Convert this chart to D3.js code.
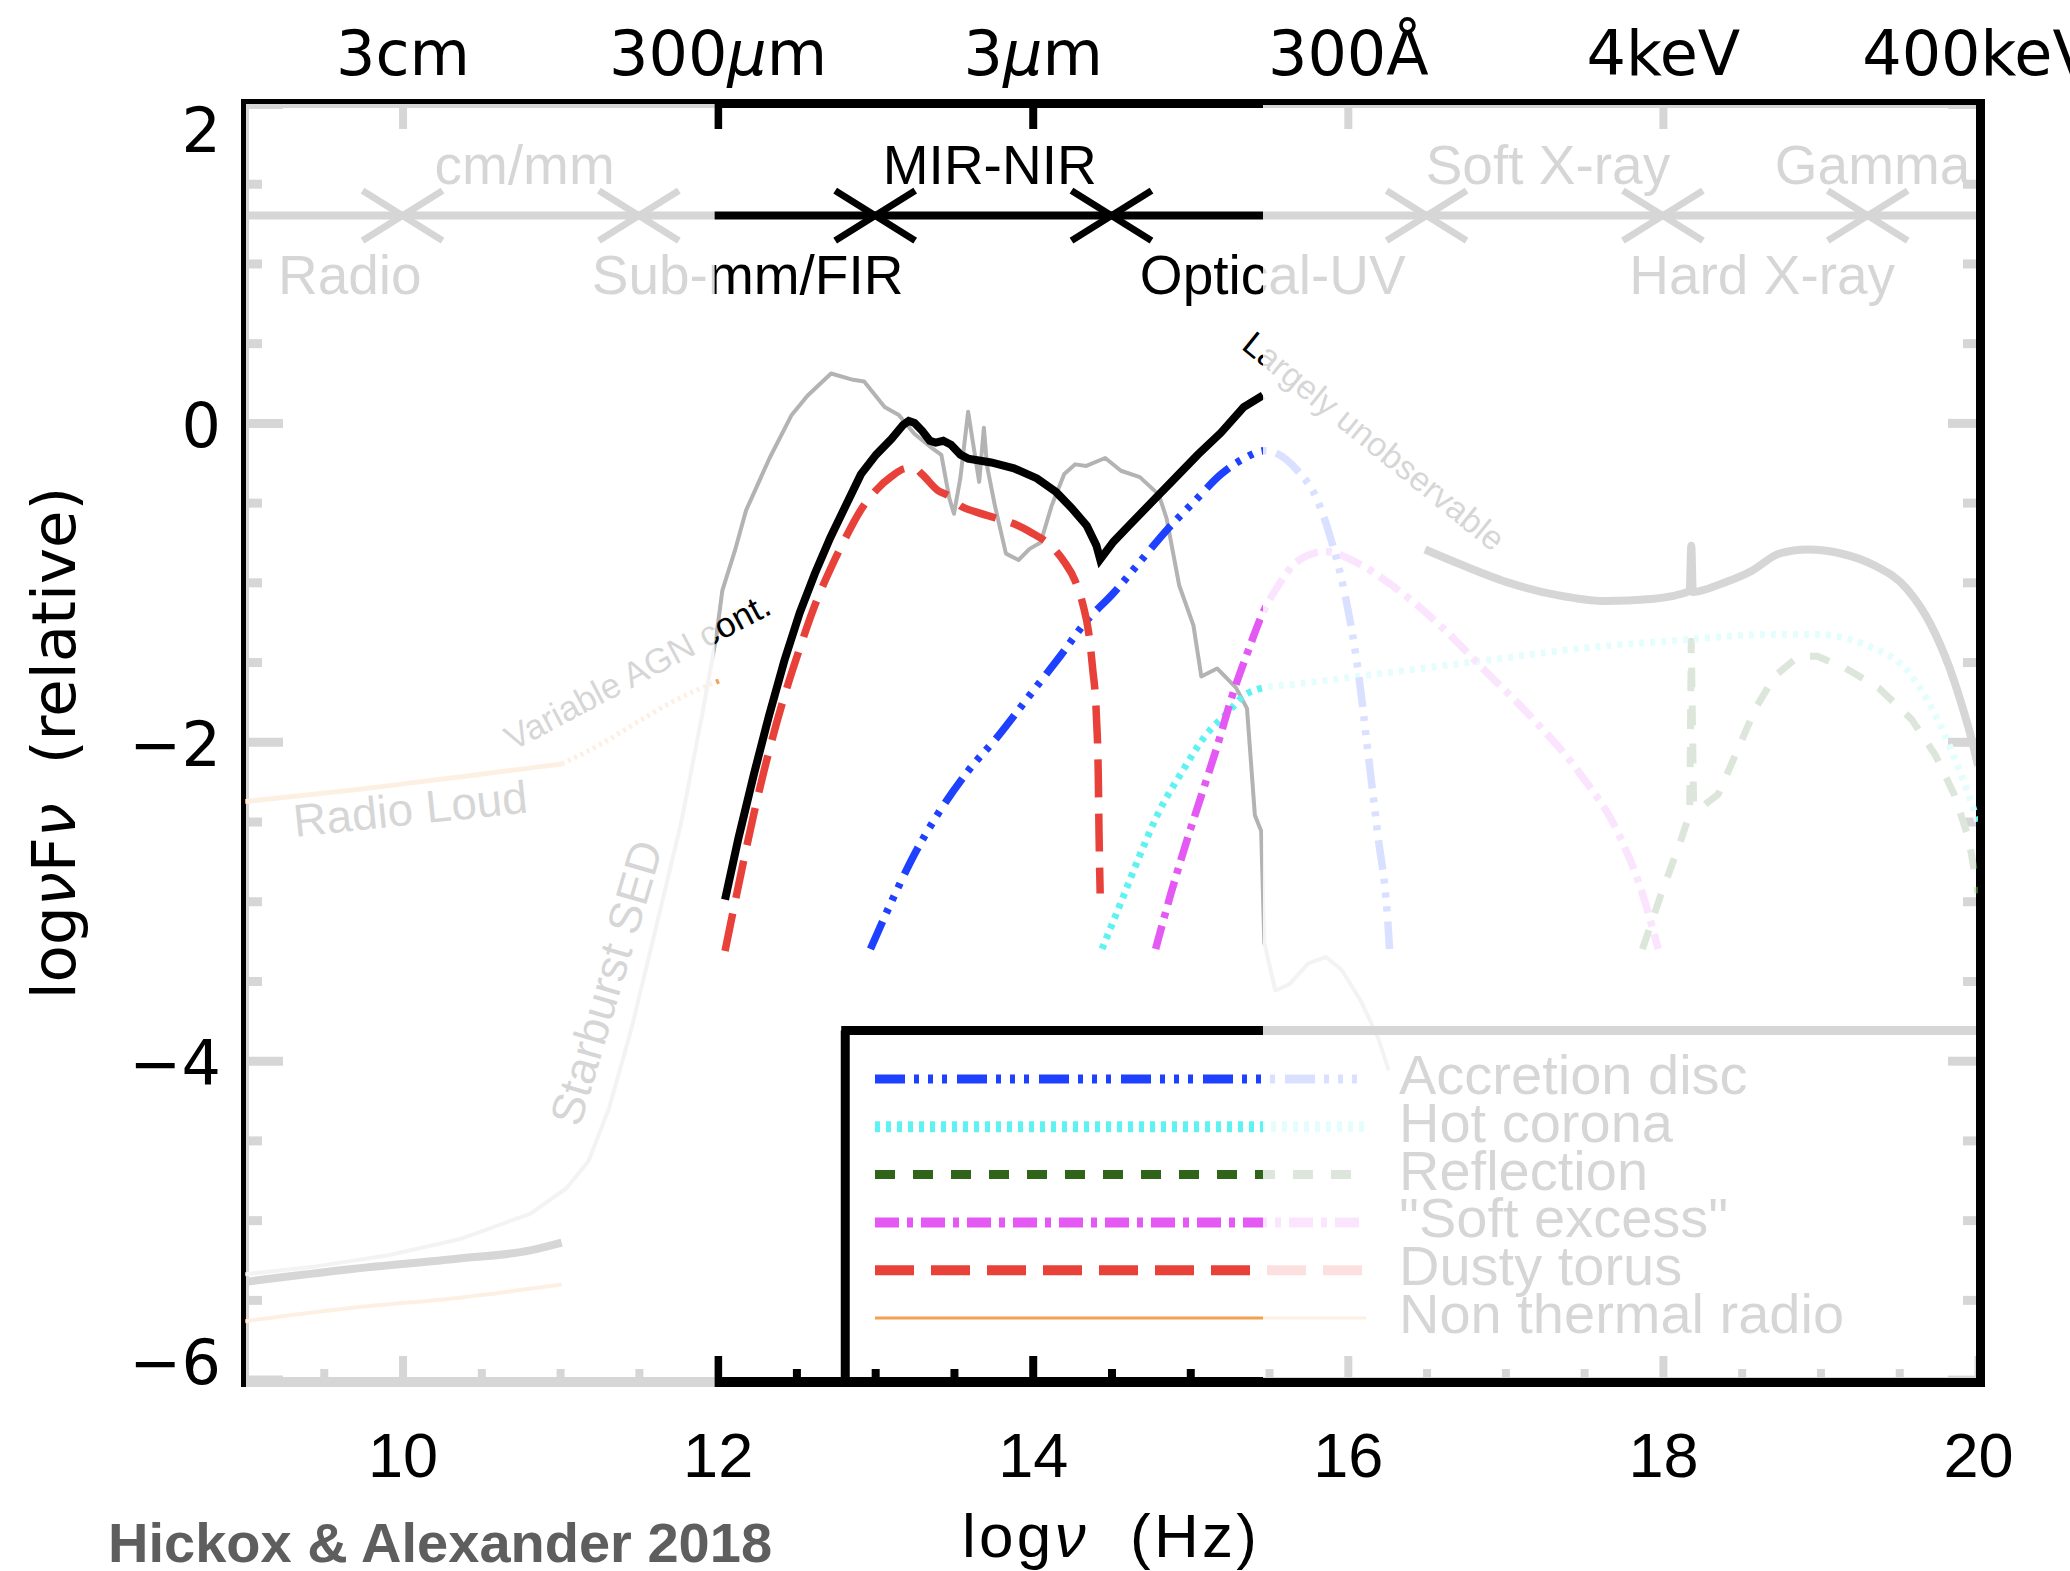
<!DOCTYPE html>
<html><head><meta charset="utf-8">
<script src="https://cdn.jsdelivr.net/npm/d3@7"></script>
<style>body{margin:0;background:#fff;} svg{display:block;}</style>
</head><body><svg id="c" width="2070" height="1571"></svg>
<script>
// ---------------- data ----------------
const xTicks = [10, 12, 14, 16, 18, 20];
const topLabels = ["3cm", "300μm", "3μm", "300Å", "4keV", "400keV"];
const yTicks = [2, 0, -2, -4, -6];
const xMinor = [9.5,10.5,11,11.5,12.5,13,13.5,14.5,15,15.5,16.5,17,17.5,18.5,19,19.5];
const yMinor = [1.5,1,0.5,-0.5,-1,-1.5,-2.5,-3,-3.5,-4.5,-5,-5.5];

const bandCrosses = [10, 11.5, 13, 14.5, 16.5, 18, 19.3];
const bandLevel = 1.30;
const bandNamesAbove = ["cm/mm", "MIR-NIR", "Soft X-ray"];
const bandPosAbove = [10.775, 13.727, 17.27];
const bandNamesBelow = ["Radio", "Sub-mm/FIR", "Optical-UV", "Hard X-ray"];
const bandPosBelow = [9.665, 12.19, 15.524, 18.63];
const gammaLabel = "Gamma"; const gammaPos = 18.71;

const totalAGN = [[12.047,-2.99],[12.132,-2.605],[12.229,-2.208],[12.326,-1.836],[12.424,-1.489],[12.521,-1.191],[12.618,-0.943],[12.715,-0.72],[12.812,-0.521],[12.909,-0.323],[13.006,-0.199],[13.104,-0.1],[13.177,-0.013],[13.213,0.012],[13.25,0.0],[13.298,-0.05],[13.347,-0.112],[13.384,-0.124],[13.432,-0.112],[13.481,-0.137],[13.541,-0.199],[13.59,-0.224],[13.736,-0.248],[13.881,-0.285],[14.027,-0.348],[14.149,-0.434],[14.246,-0.533],[14.343,-0.645],[14.404,-0.769],[14.428,-0.856],[14.513,-0.745],[14.61,-0.645],[14.756,-0.496],[14.902,-0.348],[15.048,-0.199],[15.194,-0.062],[15.339,0.099],[15.461,0.173]];
const xrayTotal = [[16.49,-0.794],[16.73,-0.893],[17.03,-1.005],[17.33,-1.08],[17.63,-1.117],[17.93,-1.104],[18.17,-1.055],[18.18,-0.77],[18.19,-1.06],[18.38,-1.005],[18.56,-0.93],[18.74,-0.819],[18.92,-0.794],[19.13,-0.819],[19.34,-0.893],[19.55,-1.042],[19.70,-1.265],[19.82,-1.538],[19.91,-1.811],[19.96,-1.985],[20.0,-2.15]];
const radioQuiet = [[9.0,-5.387],[9.68,-5.306],[10.36,-5.24],[10.81,-5.19],[11.01,-5.141]];
const radioQuietSync = [[9.0,-5.634],[9.68,-5.55],[10.36,-5.486],[11.01,-5.404]];
const radioLoud = [[9.0,-2.375],[9.68,-2.303],[10.36,-2.221],[11.01,-2.139]];
const radioLoudVar = [[11.01,-2.139],[11.27,-2.008],[11.49,-1.877],[11.72,-1.745],[12.02,-1.614]];
const dustyTorus = [[12.047,-3.312],[12.132,-2.903],[12.229,-2.456],[12.326,-2.059],[12.424,-1.712],[12.521,-1.414],[12.618,-1.141],[12.715,-0.918],[12.812,-0.72],[12.909,-0.546],[13.006,-0.422],[13.104,-0.335],[13.201,-0.285],[13.25,-0.285],[13.298,-0.323],[13.396,-0.422],[13.469,-0.459],[13.541,-0.521],[13.638,-0.558],[13.76,-0.595],[13.881,-0.633],[14.003,-0.695],[14.1,-0.757],[14.198,-0.868],[14.27,-0.992],[14.319,-1.141],[14.355,-1.315],[14.38,-1.538],[14.404,-1.836],[14.416,-2.208],[14.421,-2.58],[14.428,-2.952]];
const accretionDisc = [[12.97,-3.299],[13.104,-3.002],[13.25,-2.704],[13.396,-2.456],[13.59,-2.183],[13.784,-1.96],[13.978,-1.712],[14.173,-1.464],[14.343,-1.24],[14.513,-1.067],[14.683,-0.868],[14.853,-0.67],[15.023,-0.496],[15.194,-0.323],[15.339,-0.224],[15.475,-0.174],[15.68,-0.298],[15.80,-0.47],[15.89,-0.72],[15.98,-1.067],[16.07,-1.588],[16.13,-2.084],[16.19,-2.58],[16.25,-3.076],[16.265,-3.30]];
const softExcess = [[14.78,-3.299],[14.877,-2.952],[14.975,-2.63],[15.072,-2.332],[15.169,-2.034],[15.266,-1.712],[15.364,-1.439],[15.461,-1.191],[15.56,-1.018],[15.68,-0.868],[15.86,-0.806],[16.04,-0.868],[16.28,-1.018],[16.58,-1.265],[16.88,-1.563],[17.18,-1.861],[17.48,-2.208],[17.72,-2.58],[17.87,-2.952],[17.97,-3.299]];
const hotCorona = [[14.44,-3.299],[14.562,-3.002],[14.683,-2.704],[14.805,-2.431],[14.951,-2.183],[15.097,-1.96],[15.242,-1.811],[15.339,-1.712],[15.461,-1.662],[15.68,-1.637],[16.28,-1.563],[16.88,-1.489],[17.48,-1.414],[18.08,-1.365],[18.68,-1.327],[18.98,-1.327],[19.28,-1.39],[19.58,-1.588],[19.79,-1.96],[19.94,-2.332],[20.0,-2.506]];
const reflection = [[17.87,-3.30],[17.99,-2.952],[18.11,-2.63],[18.17,-2.45],[18.18,-1.37],[18.195,-2.40],[18.23,-2.42],[18.35,-2.33],[18.47,-2.06],[18.59,-1.786],[18.71,-1.588],[18.86,-1.464],[18.98,-1.464],[19.16,-1.538],[19.37,-1.662],[19.58,-1.861],[19.73,-2.084],[19.85,-2.332],[19.94,-2.605],[19.98,-2.828],[20.0,-2.95]];
const starburst = [[9.0,-5.34],[9.45,-5.29],[9.91,-5.22],[10.36,-5.12],[10.81,-4.96],[11.04,-4.80],[11.18,-4.63],[11.31,-4.30],[11.45,-3.81],[11.61,-3.16],[11.77,-2.50],[11.90,-1.84],[11.99,-1.35],[12.03,-1.05],[12.11,-0.80],[12.18,-0.55],[12.33,-0.22],[12.47,0.05],[12.57,0.17],[12.72,0.31],[12.86,0.27],[12.93,0.26],[13.06,0.10],[13.15,0.05],[13.25,-0.07],[13.35,-0.15],[13.42,-0.20],[13.47,-0.47],[13.50,-0.57],[13.54,-0.35],[13.59,0.07],[13.62,-0.12],[13.66,-0.37],[13.69,-0.03],[13.71,-0.27],[13.76,-0.52],[13.83,-0.82],[13.91,-0.86],[13.98,-0.79],[14.05,-0.75],[14.12,-0.52],[14.20,-0.32],[14.27,-0.26],[14.34,-0.27],[14.46,-0.22],[14.56,-0.30],[14.68,-0.34],[14.80,-0.45],[14.85,-0.60],[14.93,-1.02],[15.02,-1.27],[15.07,-1.59],[15.17,-1.54],[15.29,-1.66],[15.36,-1.79],[15.41,-2.46],[15.45,-2.56],[15.47,-3.26],[15.54,-3.56],[15.63,-3.52],[15.75,-3.39],[15.86,-3.35],[15.96,-3.43],[16.08,-3.62],[16.19,-3.85],[16.26,-4.06]];

const legendNames = ["Accretion disc", "Hot corona", "Reflection", "\"Soft excess\"", "Dusty torus", "Non thermal radio"];
const legendBox = [12.81, -3.81];

// ---------------- setup ----------------
const svg = d3.select("#c");
const x = d3.scaleLinear().domain([9, 20]).range([245, 1978]);
const y = d3.scaleLinear().domain([-6, 2]).range([1379.6, 104]);
const L = 245, R = 1978, T = 104, B = 1382;
const SANS = "'Liberation Sans', Arial, Helvetica, sans-serif";
const GEO = "'DejaVu Sans', sans-serif";

svg.append("defs").append("clipPath").attr("id", "plotclip")
  .append("rect").attr("x", L).attr("y", T).attr("width", R - L).attr("height", B - T);

// ---------------- axes ticks ----------------
function styleTicks(g, w) {
  g.select(".domain").remove();
  g.selectAll(".tick line").attr("stroke", "#000").attr("stroke-width", w);
  g.selectAll(".tick text").remove();
}
svg.append("g").attr("transform", `translate(0,${B})`)
  .call(d3.axisBottom(x).tickValues(xTicks).tickSize(-26).tickFormat(""))
  .call(g => styleTicks(g, 8));
svg.append("g").attr("transform", `translate(0,${B})`)
  .call(d3.axisBottom(x).tickValues(xMinor).tickSize(-13).tickFormat(""))
  .call(g => styleTicks(g, 8));
svg.append("g").attr("transform", `translate(0,${T})`)
  .call(d3.axisTop(x).tickValues(xTicks.slice(0, 5)).tickSize(-25).tickFormat(""))
  .call(g => styleTicks(g, 8));
svg.append("g").attr("transform", `translate(${L},0)`)
  .call(d3.axisLeft(y).tickValues(yTicks).tickSize(-38).tickFormat(""))
  .call(g => styleTicks(g, 9));
svg.append("g").attr("transform", `translate(${L},0)`)
  .call(d3.axisLeft(y).tickValues(yMinor).tickSize(-17).tickFormat(""))
  .call(g => styleTicks(g, 9));
svg.append("g").attr("transform", `translate(${R},0)`)
  .call(d3.axisRight(y).tickValues(yTicks).tickSize(-30).tickFormat(""))
  .call(g => styleTicks(g, 9));
svg.append("g").attr("transform", `translate(${R},0)`)
  .call(d3.axisRight(y).tickValues(yMinor).tickSize(-15).tickFormat(""))
  .call(g => styleTicks(g, 9));

// axis box
const box = svg.append("g").attr("stroke", "#000").attr("fill", "none");
box.append("line").attr("x1", L - 4).attr("x2", R + 7).attr("y1", T - 0.5).attr("y2", T - 0.5).attr("stroke-width", 9);
box.append("line").attr("x1", L - 4).attr("x2", R + 7).attr("y1", B).attr("y2", B).attr("stroke-width", 10);
box.append("line").attr("x1", L).attr("x2", L).attr("y1", T - 5).attr("y2", B + 5).attr("stroke-width", 8);
box.append("line").attr("x1", R + 2.5).attr("x2", R + 2.5).attr("y1", T - 5).attr("y2", B + 5).attr("stroke-width", 9);

// ---------------- band indicator ----------------
const band = svg.append("g").attr("clip-path", "url(#plotclip)");
band.append("line").attr("x1", L).attr("x2", R).attr("y1", y(bandLevel)).attr("y2", y(bandLevel))
  .attr("stroke", "#000").attr("stroke-width", 8);
bandCrosses.forEach(v => {
  const cx = x(v), cy = y(bandLevel);
  band.append("path").attr("d", `M${cx - 40},${cy - 25}L${cx + 40},${cy + 25}M${cx - 40},${cy + 25}L${cx + 40},${cy - 25}`)
    .attr("stroke", "#000").attr("stroke-width", 7).attr("fill", "none");
});
const bandText = svg.append("g").attr("font-family", SANS).attr("font-size", 55).attr("fill", "#000").attr("clip-path", "url(#plotclip)");
bandNamesAbove.forEach((t, i) => bandText.append("text").attr("x", x(bandPosAbove[i])).attr("y", y(1.50)).attr("text-anchor", "middle").text(t));
bandNamesBelow.forEach((t, i) => bandText.append("text").attr("x", x(bandPosBelow[i])).attr("y", y(0.81)).attr("text-anchor", "middle").text(t));
bandText.append("text").attr("x", x(gammaPos)).attr("y", y(1.50)).text(gammaLabel);

// ---------------- curves ----------------
const curveG = svg.append("g").attr("clip-path", "url(#plotclip)").attr("fill", "none");
const lineLin = d3.line().x(d => x(d[0])).y(d => y(d[1]));
const lineSm = d3.line().x(d => x(d[0])).y(d => y(d[1])).curve(d3.curveMonotoneX);
function draw(data, gen, color, w, dash, join) {
  curveG.append("path").datum(data).attr("d", gen).attr("stroke", color).attr("stroke-width", w)
    .attr("stroke-dasharray", dash || null).attr("stroke-linejoin", join || "round");
}
const C = { blue: "#1e40ff", cyan: "#5ff2f2", green: "#2f6419", magenta: "#e458f4", red: "#e8413a", orange: "#f2a052", grey: "#b3b3b3" };
const DASH = { blue: "30,9,5,9,5,9,5,10", cyan: "5,6", green: "20,18", magenta: "24,8,6,8", red: "38,16", orangeDot: "3,4" };

draw(starburst, lineLin, C.grey, 4);
draw(radioQuietSync, lineSm, C.orange, 4);
draw(radioLoud, lineSm, C.orange, 5);
draw(radioLoudVar, lineSm, C.orange, 5, DASH.orangeDot);
draw(radioQuiet, lineSm, "#000", 8);
draw(reflection, lineLin, C.green, 7, DASH.green);
draw(hotCorona, lineSm, C.cyan, 7, DASH.cyan);
draw(softExcess, lineSm, C.magenta, 7.5, DASH.magenta);
draw(accretionDisc, lineSm, C.blue, 7.5, DASH.blue);
draw(dustyTorus, lineSm, C.red, 7.5, DASH.red);
draw(totalAGN, lineLin, "#000", 8, null, "miter");
draw(xrayTotal, lineSm, "#000", 8);

// ---------------- annotations ----------------
const ann = svg.append("g").attr("font-family", SANS).attr("fill", "#000");
function rotText(v, f, ang, size, txt, anchor) {
  ann.append("text").attr("transform", `translate(${x(v)},${y(f)}) rotate(${ang})`)
    .attr("font-size", size).attr("text-anchor", anchor || "start").text(txt);
}
rotText(10.70, -2.06, -28, 35, "Variable AGN cont.");
rotText(9.317, -2.597, -6, 46, "Radio Loud");
rotText(11.39, -3.54, -73.5, 46, "Starburst SED", "middle");
rotText(15.317, 0.47, 39, 34, "Largely unobservable");

// ---------------- legend ----------------
const lg = svg.append("g");
lg.append("line").attr("x1", x(legendBox[0]) - 4).attr("x2", R).attr("y1", y(legendBox[1])).attr("y2", y(legendBox[1]))
  .attr("stroke", "#000").attr("stroke-width", 9);
lg.append("line").attr("x1", x(legendBox[0])).attr("x2", x(legendBox[0])).attr("y1", y(legendBox[1])).attr("y2", B)
  .attr("stroke", "#000").attr("stroke-width", 9);
const legendStyles = [
  [C.blue, 9, DASH.blue], [C.cyan, 11, DASH.cyan], [C.green, 9, DASH.green],
  [C.magenta, 10, DASH.magenta], [C.red, 10, "39,17"], [C.orange, 3, null]];
legendNames.forEach((name, i) => {
  const ly = 1079 + i * 47.8;
  const st = legendStyles[i];
  lg.append("line").attr("x1", 875).attr("x2", 1366).attr("y1", ly).attr("y2", ly)
    .attr("stroke", st[0]).attr("stroke-width", st[1]).attr("stroke-dasharray", st[2]);
  lg.append("text").attr("x", 1399).attr("y", ly + 15).attr("font-family", SANS).attr("font-size", 56)
    .attr("fill", "#000").text(name);
});

// ---------------- fading overlays ----------------
svg.append("rect").attr("x", L + 1).attr("y", T).attr("width", x(12) - 3 - (L + 1)).attr("height", B + 8 - T)
  .attr("fill", "#fff").attr("opacity", 0.84);
svg.append("rect").attr("x", 1263).attr("y", T + 1).attr("width", R - 2 - 1263).attr("height", B - 4 - (T + 1))
  .attr("fill", "#fff").attr("opacity", 0.84);

// ---------------- tick labels ----------------
const topAx = svg.append("g").attr("transform", `translate(0,${T})`)
  .call(d3.axisTop(x).tickValues(xTicks).tickSize(0).tickFormat((d, i) => topLabels[i]));
topAx.select(".domain").remove();
topAx.selectAll("text").attr("font-family", GEO).attr("font-size", 62).attr("fill", "#000")
  .attr("y", 75 - T).attr("dy", null)
  .each(function () {
    const t = d3.select(this), s = t.text();
    if (s.includes("μ")) {
      const parts = s.split("μ");
      t.text(null);
      t.append("tspan").text(parts[0]);
      t.append("tspan").attr("font-style", "italic").text("μ");
      t.append("tspan").text(parts[1]);
    }
  });

const botAx = svg.append("g").attr("transform", `translate(0,${B})`)
  .call(d3.axisBottom(x).tickValues(xTicks).tickSize(0).tickFormat(d3.format("d")));
botAx.select(".domain").remove();
botAx.selectAll("text").attr("font-family", SANS).attr("font-size", 63).attr("fill", "#000")
  .attr("y", 1477 - B).attr("dy", null);

const leftAx = svg.append("g").attr("transform", `translate(${L},0)`)
  .call(d3.axisLeft(y).tickValues(yTicks).tickSize(0).tickFormat(d => d < 0 ? "\u2212" + (-d) : String(d)));
leftAx.select(".domain").remove();
leftAx.selectAll(".tick").attr("transform", d => `translate(0,${Math.min(Math.max(y(d) + 24, T + 48), B + 2)})`);
leftAx.selectAll("text").attr("font-family", GEO).attr("font-size", 62).attr("fill", "#000")
  .attr("x", 221 - L).attr("dy", null).attr("text-anchor", "end");

// ---------------- titles ----------------
svg.append("text").attr("transform", "translate(75,743) rotate(-90)").attr("text-anchor", "middle")
  .attr("font-family", GEO).attr("font-size", 61).attr("fill", "#000")
  .html("log<tspan font-style='italic'>ν</tspan>F<tspan font-style='italic'>ν</tspan>\u00a0\u00a0(relative)");
svg.append("text").attr("x", 962).attr("y", 1557).attr("font-family", SANS).attr("font-size", 62).attr("fill", "#000")
  .attr("textLength", 295).attr("lengthAdjust", "spacing")
  .html("log<tspan font-style='italic'>ν</tspan>\u00a0\u00a0(Hz)");
svg.append("text").attr("x", 108).attr("y", 1562).attr("font-family", SANS).attr("font-weight", "bold")
  .attr("font-size", 56).attr("fill", "#5e5e5e").text("Hickox & Alexander 2018");
</script></body></html>
